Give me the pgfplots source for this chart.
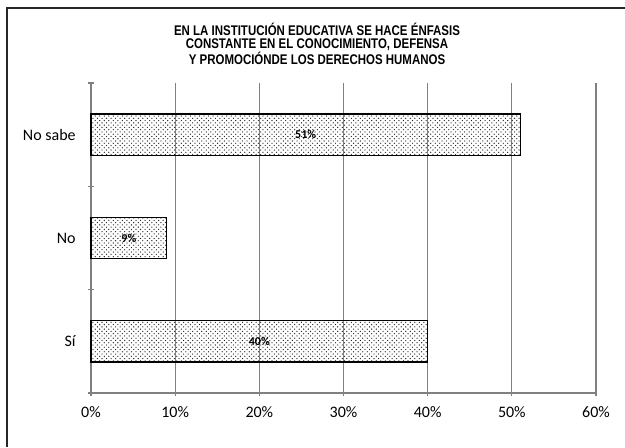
\documentclass[border=0pt]{standalone}
\usepackage{pgfplots}
\pgfplotsset{compat=1.18}
\usepackage{fontspec}
\setmainfont{Carlito}
\newfontfamily\titlefont[FakeStretch=0.82]{Liberation Sans}
\usetikzlibrary{patterns}
\definecolor{gridgray}{RGB}{128,128,128}
\pgfdeclarepatternformonly{mydots}{\pgfqpoint{-1pt}{-1pt}}{\pgfqpoint{4.4pt}{4.4pt}}{\pgfqpoint{3.4pt}{3.4pt}}{%
  \pgfpathcircle{\pgfqpoint{0pt}{0pt}}{0.5pt}%
  \pgfpathcircle{\pgfqpoint{1.7pt}{1.7pt}}{0.5pt}%
  \pgfusepath{fill}}
\begin{document}
\begin{tikzpicture}[x=0.75pt,y=0.75pt]
\useasboundingbox (0,0) rectangle (625,447);
\draw[line width=1.1pt,black!85] (7,0) -- (7,439) -- (625,439);
\node[align=center,font=\titlefont\bfseries\fontsize{10.5pt}{9.75pt}\selectfont] at (317,403) {EN LA INSTITUCIÓN EDUCATIVA SE HACE ÉNFASIS\\CONSTANTE EN EL CONOCIMIENTO, DEFENSA\\Y PROMOCIÓNDE LOS DERECHOS HUMANOS};
\begin{axis}[
  at={(68.25pt,40.5pt)}, anchor=south west,
  scale only axis, width=378.75pt, height=232.5pt,
  xmin=0, xmax=60, ymin=-0.5, ymax=2.5,
  xtick={0,10,...,60},
  xticklabel={\pgfmathprintnumber{\tick}\%},
  /pgf/number format/assume math mode=true,
  ytick={0,1,2},
  yticklabels={Sí,No,No sabe},
  minor ytick={-0.5,0.5,1.5,2.5},
  major y tick style={draw=none},
  minor y tick style={gridgray, thick},
  minor tick length=4pt,
  major tick length=4pt,
  tick align=outside,
  x tick style={gridgray, thick},
  axis lines=left,
  axis line style={gridgray, thick, -},
  xmajorgrids,
  grid style={gridgray, thick},
  tick label style={font=\fontsize{12pt}{14pt}\selectfont, black},
  xticklabel style={yshift=-5pt},
  yticklabel style={xshift=-6pt},
  bar width=0.4,
  clip=false,
]
\addplot[xbar, draw=black, line width=1.1pt, pattern=mydots, pattern color=black!85]
  table[x=v, y=c] {
c v
0 40
1 9
2 51
};
\addplot[only marks, mark=none,
  nodes near coords={\pgfmathprintnumber{\pgfplotspointmeta}\%},
  nodes near coords align={center},
  every node near coord/.append style={font=\bfseries\fontsize{9pt}{10pt}\selectfont, black, anchor=center},
  point meta=explicit]
  table[x expr=\thisrow{v}/2, y=c, meta=v] {
c v
0 40
1 9
2 51
};
\end{axis}
\end{tikzpicture}
\end{document}
